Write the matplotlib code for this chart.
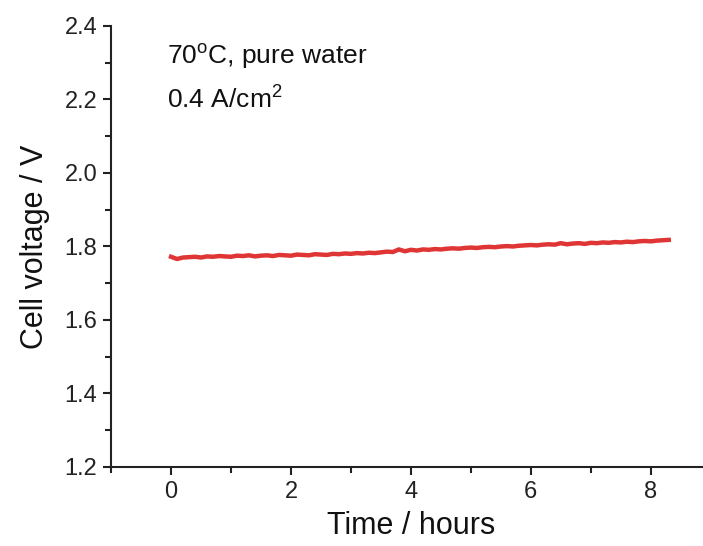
import matplotlib
matplotlib.use("Agg")
import matplotlib.pyplot as plt
import numpy as np
from matplotlib.ticker import MultipleLocator

plt.rcParams["font.family"] = ["Liberation Sans", "DejaVu Sans"]
plt.rcParams["mathtext.default"] = "regular"

# Time (hours) and cell voltage (V)
time_h = [0.0, 0.1, 0.2, 0.3, 0.4, 0.5, 0.6, 0.7, 0.8, 0.9,
          1.0, 1.1, 1.2, 1.3, 1.4, 1.5, 1.6, 1.7, 1.8, 1.9,
          2.0, 2.1, 2.2, 2.3, 2.4, 2.5, 2.6, 2.7, 2.8, 2.9,
          3.0, 3.1, 3.2, 3.3, 3.4, 3.5, 3.6, 3.7, 3.8, 3.9,
          4.0, 4.1, 4.2, 4.3, 4.4, 4.5, 4.6, 4.7, 4.8, 4.9,
          5.0, 5.1, 5.2, 5.3, 5.4, 5.5, 5.6, 5.7, 5.8, 5.9,
          6.0, 6.1, 6.2, 6.3, 6.4, 6.5, 6.6, 6.7, 6.8, 6.9,
          7.0, 7.1, 7.2, 7.3, 7.4, 7.5, 7.6, 7.7, 7.8, 7.9,
          8.0, 8.1, 8.2, 8.3]
voltage = [1.772, 1.766, 1.770, 1.771, 1.772, 1.770, 1.773, 1.772, 1.774, 1.773,
           1.772, 1.775, 1.774, 1.776, 1.773, 1.775, 1.776, 1.774, 1.777, 1.776,
           1.775, 1.778, 1.777, 1.776, 1.779, 1.778, 1.777, 1.780, 1.779, 1.781,
           1.780, 1.782, 1.781, 1.783, 1.782, 1.784, 1.786, 1.785, 1.792, 1.787,
           1.791, 1.789, 1.792, 1.791, 1.793, 1.792, 1.794, 1.795, 1.794, 1.796,
           1.797, 1.796, 1.798, 1.799, 1.798, 1.800, 1.801, 1.800, 1.802, 1.803,
           1.804, 1.803, 1.805, 1.806, 1.805, 1.809, 1.806, 1.808, 1.809, 1.807,
           1.810, 1.809, 1.811, 1.810, 1.812, 1.811, 1.813, 1.812, 1.814, 1.815,
           1.814, 1.816, 1.817, 1.818]

x_ticks = [0, 2, 4, 6, 8]
y_ticks = [1.2, 1.4, 1.6, 1.8, 2.0, 2.2, 2.4]

fig = plt.figure(figsize=(7.03, 5.46), dpi=100)
ax = fig.add_axes([0.158, 0.1447, 0.853, 0.8077])

ax.plot(time_h, voltage, color="#e03535", linewidth=3.2, solid_joinstyle="round")

ax.set_xlim(-1, 9)
ax.set_ylim(1.2, 2.4)
ax.set_xticks(x_ticks)
ax.set_yticks(y_ticks)
ax.set_yticklabels([f"{v:.1f}" for v in y_ticks])
ax.xaxis.set_minor_locator(MultipleLocator(1))
ax.yaxis.set_minor_locator(MultipleLocator(0.1))

for side in ["top", "right"]:
    ax.spines[side].set_visible(False)
for side in ["left", "bottom"]:
    ax.spines[side].set_linewidth(1.5)
    ax.spines[side].set_color("#222222")

ax.tick_params(which="major", direction="out", length=6, width=1.5,
               labelsize=17, colors="#222222", pad=4)
ax.tick_params(which="minor", direction="out", length=4, width=1.5, colors="#222222")

ax.set_xlabel("Time / hours", fontsize=22, color="#111111", labelpad=6)
ax.set_ylabel("Cell voltage / V", fontsize=22, color="#111111", labelpad=10)

ax.text(-0.07, 2.316, "70$^{o}$C, pure water", fontsize=19, va="center", ha="left", color="#111111")
ax.text(-0.07, 2.199, "0.4 A/cm$^{2}$", fontsize=19, va="center", ha="left", color="#111111")

fig.savefig("out.png", dpi=100)
